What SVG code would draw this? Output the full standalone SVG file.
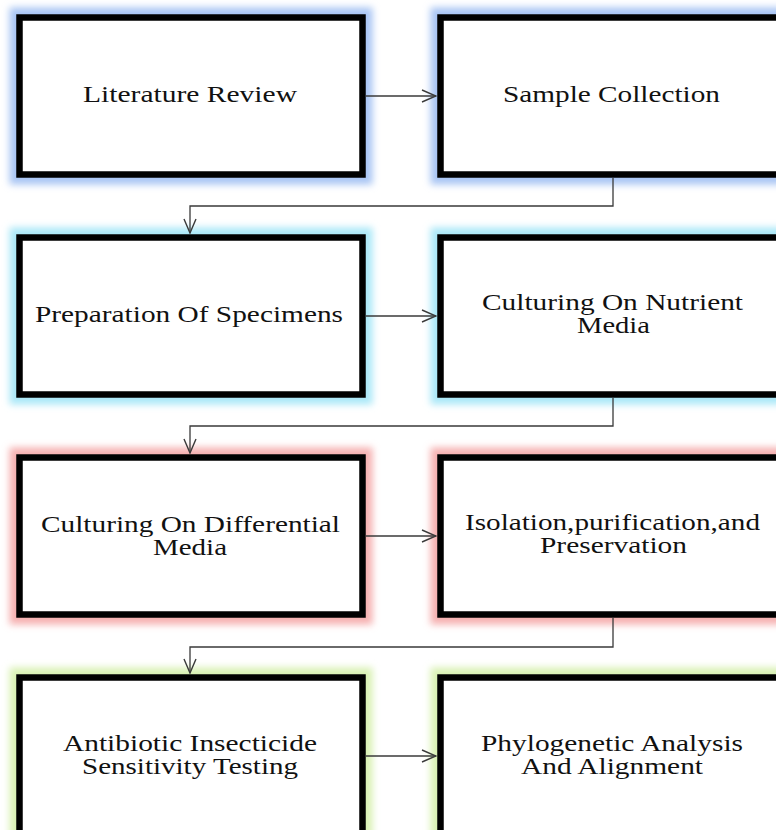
<svg xmlns="http://www.w3.org/2000/svg" width="776" height="830" viewBox="0 0 776 830">
<style>
.box{fill:#fff;stroke:#000;stroke-width:6.5}
.glow{fill:none;stroke-width:20;filter:url(#blur)}
.b{stroke:#a8c5f4}
.c{stroke:#aae8f8}
.r{stroke:#f6b0b0}
.g{stroke:#d9f1b3}
.lbl{font-family:"Liberation Serif","Times New Roman",serif;font-size:22.5px;fill:#111;text-anchor:middle}
.conn{fill:none;stroke:#3a3a3a;stroke-width:1.3}
</style>
<defs>
<filter id="blur" x="-20%" y="-20%" width="140%" height="140%"><feGaussianBlur stdDeviation="3.5"/></filter>
<marker id="ah" viewBox="0 0 16 14" refX="15" refY="7" markerWidth="16" markerHeight="14" markerUnits="userSpaceOnUse" orient="auto"><path d="M1,1 L15,7 L1,13" fill="none" stroke="#3a3a3a" stroke-width="1.4"/></marker>
</defs>
<rect width="776" height="830" fill="#fff"/>
<g id="n1"><rect class="glow b" x="19.5" y="17.5" width="343" height="157"/><rect class="box" x="19.5" y="17.5" width="343" height="157"/><text class="lbl" x="190" y="102" textLength="214" lengthAdjust="spacingAndGlyphs">Literature Review</text></g>
<g id="n2"><rect class="glow b" x="440.5" y="17.5" width="400" height="157"/><rect class="box" x="440.5" y="17.5" width="400" height="157"/><text class="lbl" x="611.5" y="102" textLength="217" lengthAdjust="spacingAndGlyphs">Sample Collection</text></g>
<g id="n3"><rect class="glow c" x="19.5" y="237.5" width="343" height="157"/><rect class="box" x="19.5" y="237.5" width="343" height="157"/><text class="lbl" x="189" y="322" textLength="308" lengthAdjust="spacingAndGlyphs">Preparation Of Specimens</text></g>
<g id="n4"><rect class="glow c" x="440.5" y="237.5" width="400" height="157"/><rect class="box" x="440.5" y="237.5" width="400" height="157"/><text class="lbl" x="612.5" y="310" textLength="261" lengthAdjust="spacingAndGlyphs">Culturing On Nutrient</text><text class="lbl" x="613.5" y="333" textLength="73" lengthAdjust="spacingAndGlyphs">Media</text></g>
<g id="n5"><rect class="glow r" x="19.5" y="457.5" width="343" height="157"/><rect class="box" x="19.5" y="457.5" width="343" height="157"/><text class="lbl" x="190.5" y="532" textLength="299" lengthAdjust="spacingAndGlyphs">Culturing On Differential</text><text class="lbl" x="190" y="555" textLength="74" lengthAdjust="spacingAndGlyphs">Media</text></g>
<g id="n6"><rect class="glow r" x="440.5" y="457.5" width="400" height="157"/><rect class="box" x="440.5" y="457.5" width="400" height="157"/><text class="lbl" x="612.5" y="530" textLength="295" lengthAdjust="spacingAndGlyphs">Isolation,purification,and</text><text class="lbl" x="613.5" y="553" textLength="147" lengthAdjust="spacingAndGlyphs">Preservation</text></g>
<g id="n7"><rect class="glow g" x="19.5" y="677.5" width="343" height="200"/><rect class="box" x="19.5" y="677.5" width="343" height="200"/><text class="lbl" x="190" y="751" textLength="254" lengthAdjust="spacingAndGlyphs">Antibiotic Insecticide</text><text class="lbl" x="190" y="774" textLength="216" lengthAdjust="spacingAndGlyphs">Sensitivity Testing</text></g>
<g id="n8"><rect class="glow g" x="440.5" y="677.5" width="400" height="200"/><rect class="box" x="440.5" y="677.5" width="400" height="200"/><text class="lbl" x="612" y="751" textLength="262" lengthAdjust="spacingAndGlyphs">Phylogenetic Analysis</text><text class="lbl" x="612" y="774" textLength="182" lengthAdjust="spacingAndGlyphs">And Alignment</text></g>
<g id="connectors">
<path class="conn" marker-end="url(#ah)" d="M366,96 H436"/>
<path class="conn" marker-end="url(#ah)" d="M613,178 V206 H190 V233"/>
<path class="conn" marker-end="url(#ah)" d="M366,316 H436"/>
<path class="conn" marker-end="url(#ah)" d="M613,398 V426 H190 V453"/>
<path class="conn" marker-end="url(#ah)" d="M366,536 H436"/>
<path class="conn" marker-end="url(#ah)" d="M613,618 V647 H190 V673"/>
<path class="conn" marker-end="url(#ah)" d="M366,756 H436"/>
</g>
</svg>
